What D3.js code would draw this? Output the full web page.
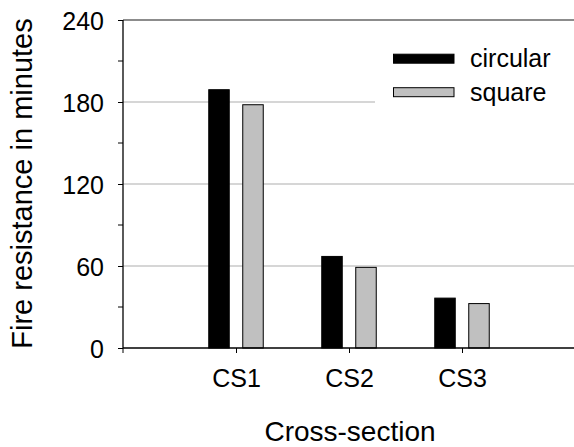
<!DOCTYPE html>
<html><head><meta charset="utf-8">
<script src="https://cdn.jsdelivr.net/npm/d3@7"></script>
<style>body{margin:0;background:#fff}svg{display:block}text{font-family:"Liberation Sans",Arial,sans-serif;fill:#000}</style>
</head><body><svg id="c" width="574" height="447"></svg>
<script>
const categories = ["CS1", "CS2", "CS3"];
const circular = [189, 67, 36.5];
const square = [178, 59, 32.5];
const yTicks = [0, 60, 120, 180, 240];
const yMinor = [30, 90, 150, 210];
const seriesNames = ["circular", "square"];
const seriesColors = ["#000000", "#c0c0c0"];

const svg = d3.select("#c");
const x0 = 123, y0 = 348;
const x = d3.scaleLinear().domain([0, 4]).range([x0, 575]);
const y = d3.scaleLinear().domain([0, 240]).range([y0, 20]);

// gridlines
svg.append("g").selectAll("line").data([60, 120, 180]).join("line")
  .attr("x1", x0).attr("x2", 574).attr("y1", d => y(d)).attr("y2", d => y(d))
  .attr("stroke", "#c8c8c8").attr("stroke-width", 1.3);
svg.append("line").attr("x1", x0).attr("x2", 574).attr("y1", y(240)).attr("y2", y(240))
  .attr("stroke", "#666").attr("stroke-width", 1.3);

// bars
const off = [-17, 17], bw = 20.5;
[circular, square].forEach((vals, s) => {
  svg.append("g").selectAll("rect").data(vals).join("rect")
    .attr("x", (d, i) => x(i + 1) + off[s] - bw / 2)
    .attr("width", bw)
    .attr("y", d => y(d))
    .attr("height", d => y0 - y(d))
    .attr("fill", seriesColors[s])
    .attr("stroke", "#000").attr("stroke-width", 1);
});

// y axis
const yAxis = d3.axisLeft(y).tickValues(yTicks).tickSize(5).tickPadding(14);
const gy = svg.append("g").attr("transform", `translate(${x0},0)`).call(yAxis);
gy.select(".domain").attr("stroke", "#000").attr("stroke-width", 1.3).attr("d", `M0,${y0}V20`);
gy.selectAll(".tick line").attr("stroke", "#000");
gy.selectAll("text").attr("font-size", 25).attr("font-family", '"Liberation Sans",Arial,sans-serif').attr("dy", "0.37em");
gy.append("g").selectAll("line").data(yMinor).join("line")
  .attr("x1", -5).attr("x2", 0).attr("y1", d => y(d)).attr("y2", d => y(d)).attr("stroke", "#000");

// x axis
const xAxis = d3.axisBottom(x).tickValues([1, 2, 3]).tickFormat(d => categories[d - 1]).tickSize(5).tickPadding(16);
const gx = svg.append("g").attr("transform", `translate(0,${y0})`).call(xAxis);
gx.select(".domain").attr("stroke", "#000").attr("stroke-width", 1.5).attr("d", `M${x0},0H574`);
gx.selectAll(".tick line").attr("stroke", "#000");
gx.selectAll("text").attr("font-size", 25).attr("font-family", '"Liberation Sans",Arial,sans-serif');
gx.append("line").attr("x1", x0).attr("x2", x0).attr("y1", 0).attr("y2", 5).attr("stroke", "#000");

// legend
const lg = svg.append("g");
lg.append("rect").attr("x", 375).attr("y", 40).attr("width", 199).attr("height", 70).attr("fill", "#fff");
seriesNames.forEach((n, i) => {
  const cy = 58.7 + i * 33.5;
  lg.append("rect").attr("x", 393.5).attr("y", cy - 4.5).attr("width", 60.5).attr("height", 9)
    .attr("fill", seriesColors[i]).attr("stroke", "#000").attr("stroke-width", 1);
  lg.append("text").attr("x", 470).attr("y", cy).attr("dy", "0.35em").attr("font-size", 25).text(n);
});

// titles
svg.append("text").attr("x", 350).attr("y", 441).attr("text-anchor", "middle").attr("font-size", 28).text("Cross-section");
svg.append("text").attr("transform", "translate(32,183.5) rotate(-90)").attr("text-anchor", "middle").attr("font-size", 29).text("Fire resistance in minutes");
</script></body></html>
